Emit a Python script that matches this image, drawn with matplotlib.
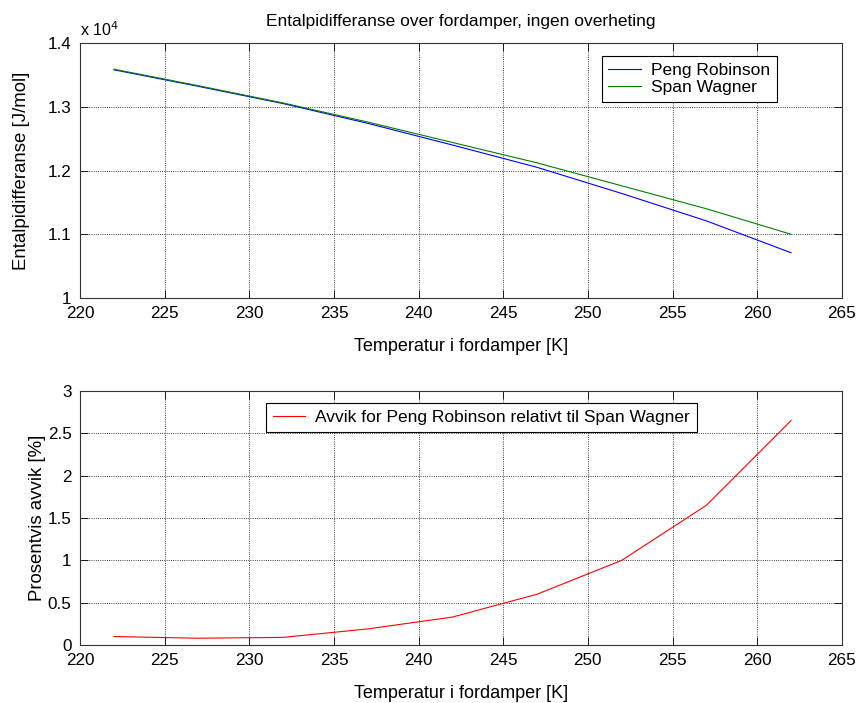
import matplotlib
matplotlib.use("Agg")
import matplotlib.pyplot as plt
from matplotlib.ticker import FuncFormatter

# temperatures in the evaporator [K]
temps = [222, 227, 232, 237, 242, 247, 252, 257, 262]
# enthalpy difference [J/mol]
span_wagner = [13590, 13330, 13060, 12760, 12440, 12120, 11760, 11400, 11000]
peng_robinson = [13580, 13320, 13050, 12740, 12400, 12050, 11640, 11210, 10710]
# relative deviation [%]
deviation = [0.10, 0.08, 0.09, 0.19, 0.33, 0.60, 1.00, 1.65, 2.65]

xticks = [220, 225, 230, 235, 240, 245, 250, 255, 260, 265]

plt.rcParams['font.family'] = ['Liberation Sans', 'DejaVu Sans']
plt.rcParams['font.size'] = 12.5


def style_axes(ax):
    ax.set_xlim(220, 265)
    ax.set_xticks(xticks)
    ax.tick_params(direction='in', top=True, right=True, length=5.5, width=0.6,
                   pad=6, labelsize=12.3)
    ax.grid(True, linestyle=':', color='black', linewidth=0.6)
    for s in ax.spines.values():
        s.set_linewidth(0.8)
        s.set_color('#333333')
    ax.set_xlabel('Temperatur i fordamper [K]', labelpad=12, fontsize=13)


def add_legend(ax, **kw):
    leg = ax.legend(fancybox=False, edgecolor='black', framealpha=1,
                    handlelength=1.85, handletextpad=0.6, borderpad=0.4,
                    labelspacing=0.12, borderaxespad=0, **kw)
    leg.get_frame().set_linewidth(0.8)
    return leg


fig = plt.figure(figsize=(8.57, 7.03), dpi=100)
ax1 = fig.add_axes([0.0933, 0.5761, 0.889, 0.3627])
ax2 = fig.add_axes([0.0933, 0.0825, 0.889, 0.3613])

# upper plot
ax1.plot(temps, peng_robinson, color='#0000ff', lw=0.8, label='Peng Robinson')
ax1.plot(temps, span_wagner, color='#008000', lw=0.8, label='Span Wagner')
style_axes(ax1)
ax1.set_ylim(1.0e4, 1.4e4)
ax1.set_yticks([1.0e4, 1.1e4, 1.2e4, 1.3e4, 1.4e4])
ax1.yaxis.set_major_formatter(FuncFormatter(lambda v, p: '%g' % (v / 1e4)))
ax1.text(0.0, 1.015, r'x 10$^4$', transform=ax1.transAxes, ha='left', va='bottom',
         fontsize=11.5)
ax1.set_title('Entalpidifferanse over fordamper, ingen overheting', pad=12,
              fontsize=12.5)
ax1.set_ylabel('Entalpidifferanse [J/mol]', labelpad=13, fontsize=13.4)
add_legend(ax1, loc='upper right', bbox_to_anchor=(0.915, 0.949))

# lower plot
ax2.plot(temps, deviation, color='#ff0000', lw=0.8,
         label='Avvik for Peng Robinson relativt til Span Wagner')
style_axes(ax2)
ax2.set_ylim(0, 3)
ax2.set_yticks([0, 0.5, 1, 1.5, 2, 2.5, 3])
ax2.yaxis.set_major_formatter(FuncFormatter(lambda v, p: '%g' % v))
ax2.set_ylabel('Prosentvis avvik [%]', labelpad=1, fontsize=13.4)
add_legend(ax2, loc='upper center', bbox_to_anchor=(0.527, 0.953))

fig.savefig('out.png', dpi=100, facecolor='white')
plt.close(fig)
